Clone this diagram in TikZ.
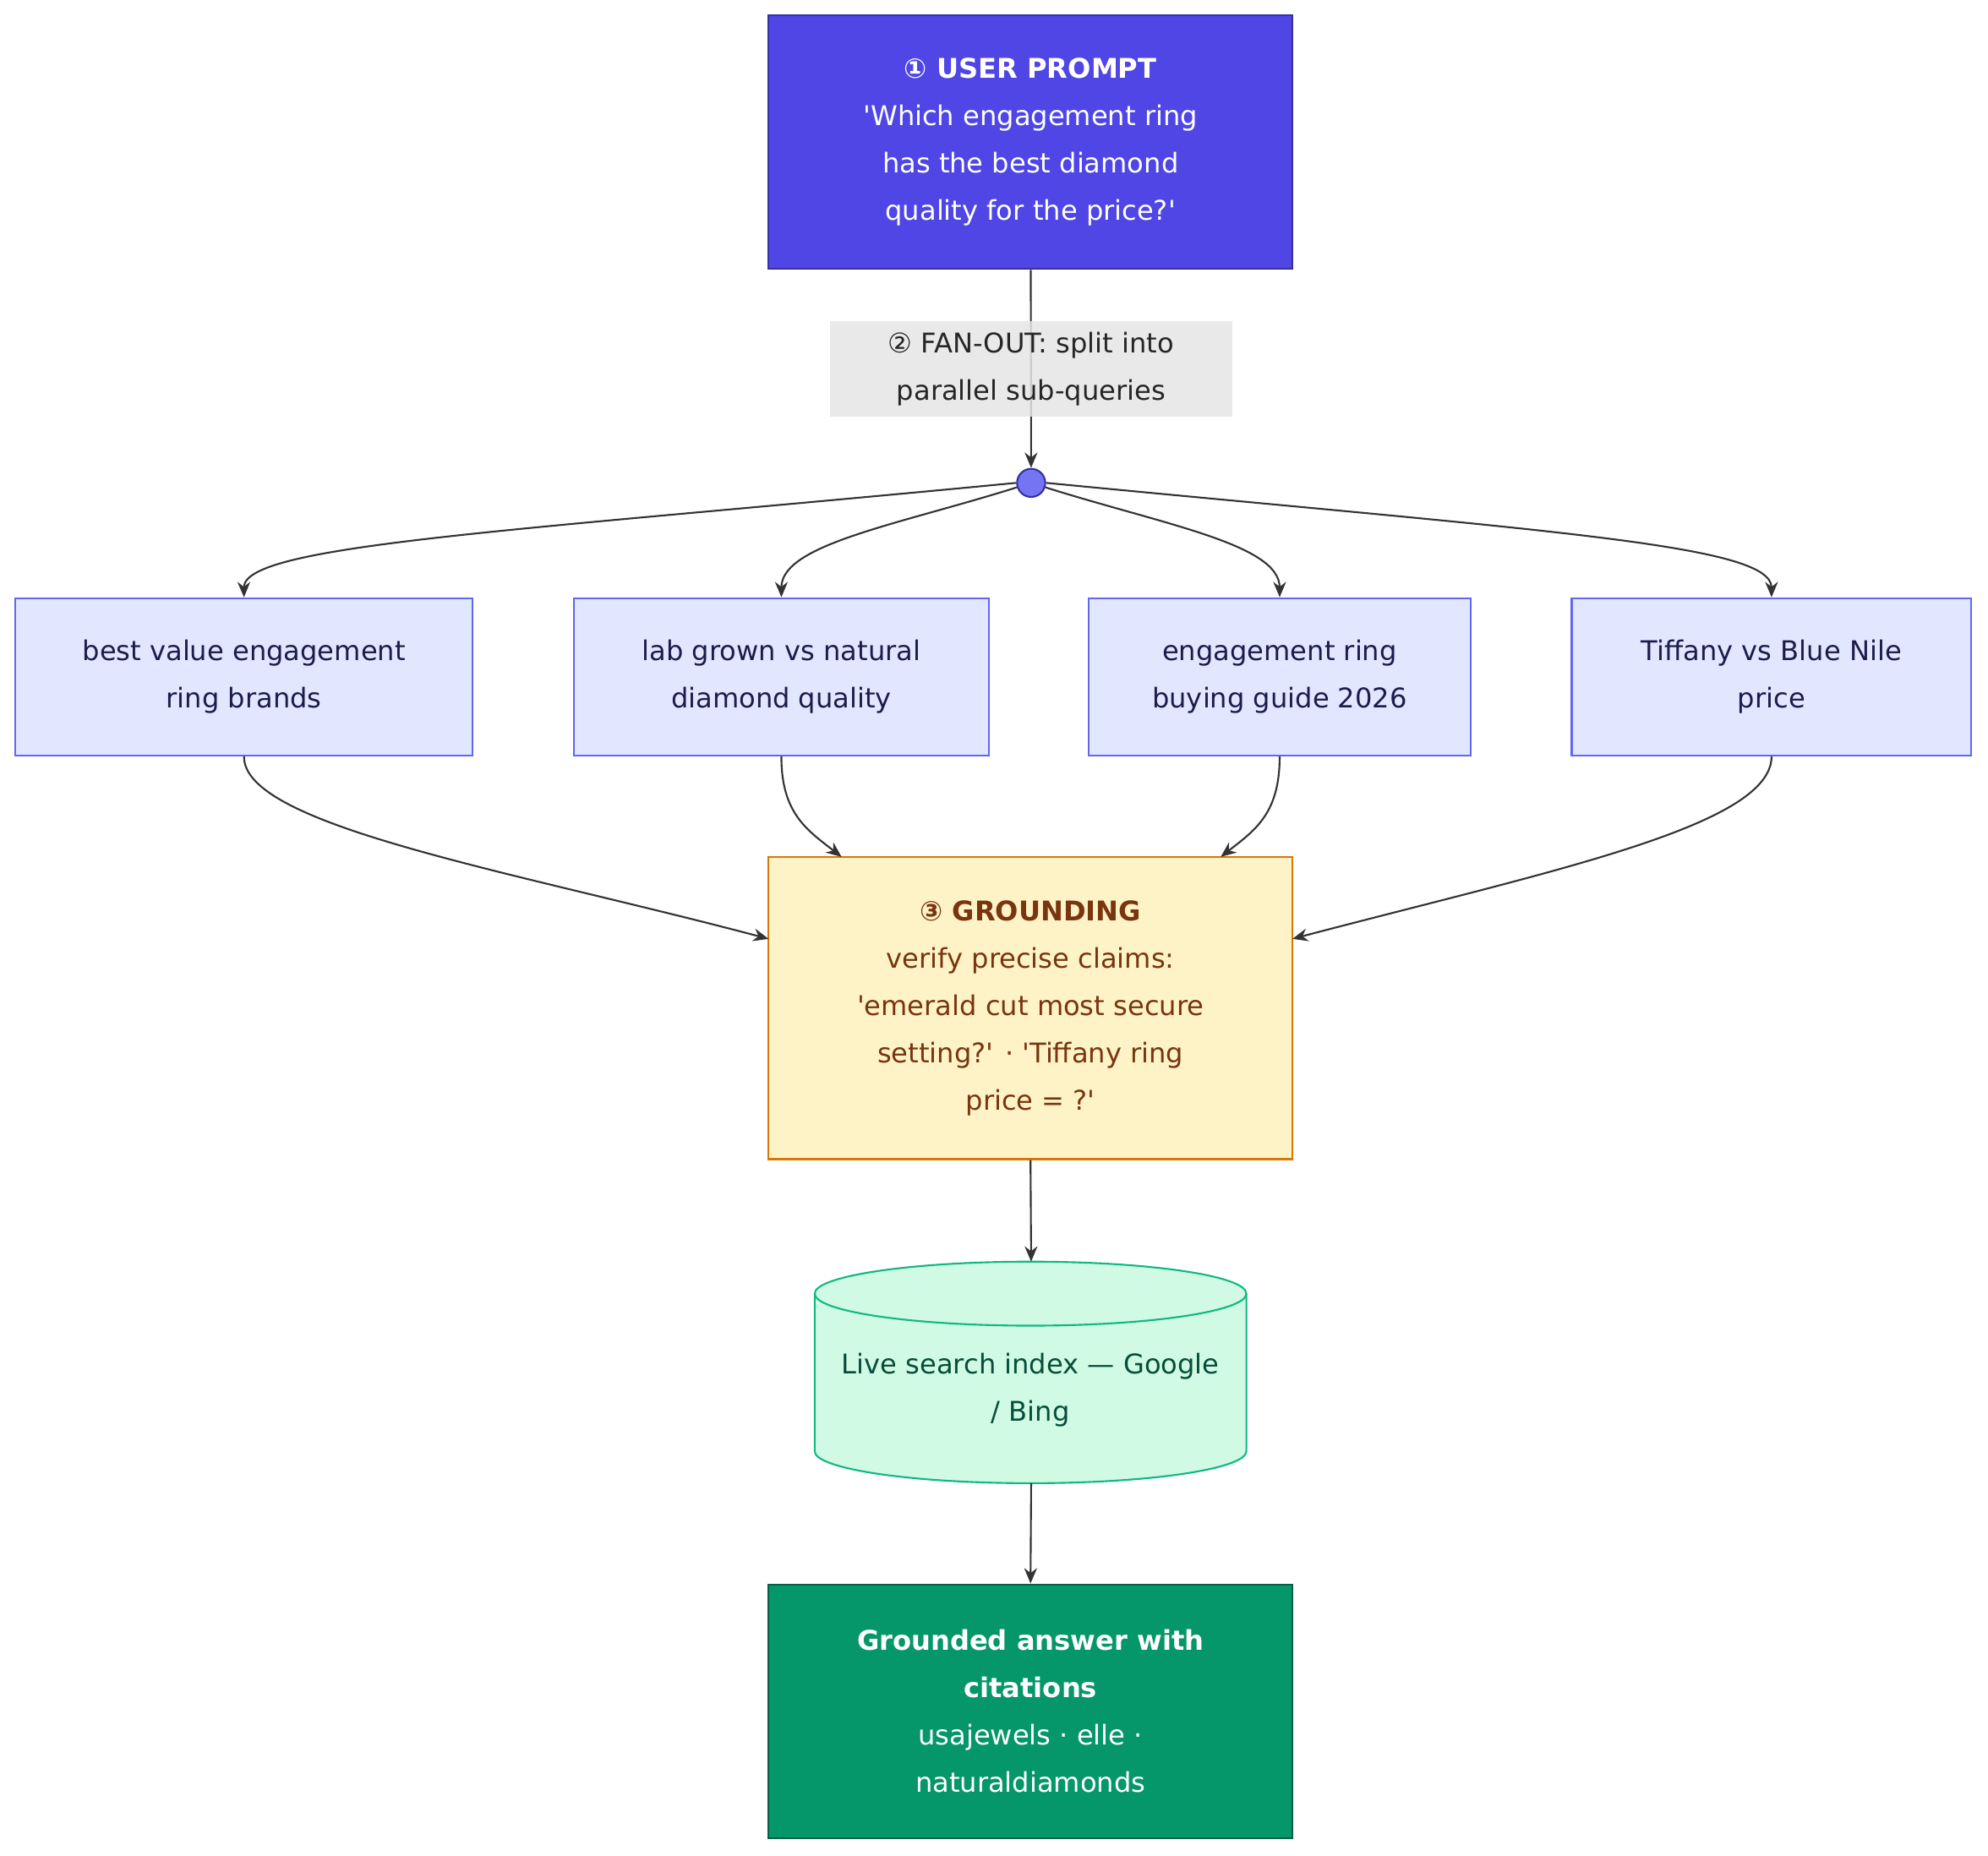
\documentclass[tikz,border=0pt]{standalone}
\usepackage{fontspec}
\setmainfont{DejaVu Sans}[Ligatures=TeXOff]
\usetikzlibrary{arrows.meta}
\definecolor{ind}{HTML}{4F46E5}\definecolor{indb}{HTML}{3730A3}
\definecolor{qf}{HTML}{E0E7FF}\definecolor{qb}{HTML}{6366F1}\definecolor{qt}{HTML}{1E1B4B}
\definecolor{gf}{HTML}{FEF3C7}\definecolor{gb}{HTML}{D97706}\definecolor{gt}{HTML}{78350F}
\definecolor{cf}{HTML}{D1FAE5}\definecolor{cb}{HTML}{10B981}\definecolor{ct}{HTML}{064E3B}
\definecolor{af}{HTML}{059669}\definecolor{ab}{HTML}{065F46}
\definecolor{ln}{HTML}{333333}
\begin{document}
\begin{tikzpicture}[x=0.5pt,y=-0.5pt,
  box/.style={draw,line width=0.7pt,align=center,inner sep=0pt,font=\fontsize{10.6}{18.5}\selectfont},
  q/.style={box,fill=qf,draw=qb,text=qt,minimum height=61.5pt},
  e/.style={draw=ln,line width=0.7pt,-{Stealth[length=6pt,width=5pt]}}]
\useasboundingbox (0,0) rectangle (1552,1449);
\node[box,fill=ind,draw=indb,text=white,minimum width=204.5pt,minimum height=99pt] (p) at (804.5,111) {\textbf{① USER PROMPT}\\'Which engagement ring\\has the best diamond\\quality for the price?'};
\node[circle,fill=qb!90,draw=indb,line width=0.7pt,minimum size=11pt,inner sep=0pt] (c) at (805,377) {};
\draw[e] (p) -- (c);
\node[box,draw=none,fill=gray!20,fill opacity=0.85,text opacity=1,text=black!85,minimum width=157pt,minimum height=37.5pt] (l) at (805,288) {② FAN-OUT: split into\\parallel sub-queries};
\node[q,minimum width=178.5pt] (a) at (190.5,528.5) {best value engagement\\ring brands};
\node[q,minimum width=162pt] (b) at (610,528.5) {lab grown vs natural\\diamond quality};
\node[q,minimum width=149pt] (d) at (999,528.5) {engagement ring\\buying guide 2026};
\node[q,minimum width=156pt] (t) at (1383,528.5) {Tiffany vs Blue Nile\\price};
\draw[e] (c.west) .. controls (400,415) and (190,425) .. (a.north);
\draw[e] (c) .. controls (700,410) and (610,425) .. (b.north);
\draw[e] (c) .. controls (910,410) and (999,425) .. (d.north);
\draw[e] (c.east) .. controls (1210,415) and (1383,425) .. (t.north);
\node[box,fill=gf,draw=gb,text=gt,minimum width=204.5pt,minimum height=118pt] (g) at (804.5,787) {\textbf{③ GROUNDING}\\verify precise claims:\\'emerald cut most secure\\setting?' · 'Tiffany ring\\price = ?'};
\coordinate (g1) at (600,733);\coordinate (g2) at (657,669);\coordinate (g3) at (953,669);\coordinate (g4) at (1009,733);
\draw[e] (a.south) .. controls (190,645) and (400,680) .. (g1);
\draw[e] (b.south) .. controls (610,635) and (630,648) .. (g2);
\draw[e] (d.south) .. controls (999,635) and (980,648) .. (g3);
\draw[e] (t.south) .. controls (1383,645) and (1210,680) .. (g4);
\fill[cf,draw=cb,line width=0.7pt] (636,1010) -- (636,1133) arc[start angle=180,end angle=0,x radius=168.5,y radius=25] -- (973,1010) arc[start angle=0,end angle=-180,x radius=168.5,y radius=25] -- cycle;
\draw[cb,line width=0.7pt] (636,1010) arc[start angle=180,end angle=0,x radius=168.5,y radius=25];
\node[box,draw=none,text=ct] (s) at (804.5,1085) {Live search index — Google\\/ Bing};
\coordinate (st) at (805,985);\coordinate (sb) at (805,1158);
\draw[e] (g.south) -- (st);
\node[box,fill=af,draw=ab,text=white,minimum width=204.5pt,minimum height=99pt] (ans) at (804.5,1336) {\textbf{Grounded answer with}\\\textbf{citations}\\usajewels · elle ·\\naturaldiamonds};
\draw[e] (sb) -- (ans.north);
\end{tikzpicture}
\end{document}
